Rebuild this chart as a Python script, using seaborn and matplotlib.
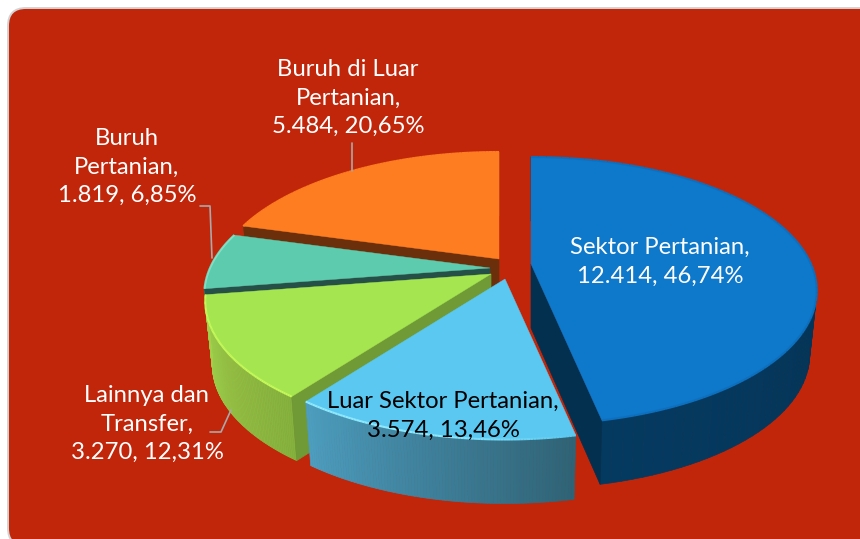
import numpy as np
import pandas as pd
import seaborn as sns
import matplotlib.pyplot as plt
from matplotlib.collections import PolyCollection, LineCollection
from matplotlib.patches import FancyBboxPatch, Polygon

# Data (clockwise from the top)
categories = ["Sektor Pertanian", "Luar Sektor Pertanian", "Lainnya dan\nTransfer",
              "Buruh\nPertanian", "Buruh di Luar\nPertanian"]
jumlah = [12414, 3574, 3270, 1819, 5484]
persen = ["46,74%", "13,46%", "12,31%", "6,85%", "20,65%"]

df = pd.DataFrame({"kategori": categories, "jumlah": jumlah, "persen": persen})

# Colours of each slice
top_colors = ["#0E78CB", "#5AC8F0", "#A5E650", "#5CCBAE", "#FE7D21"]
cut_colors = ["#03304F", "#3F8CAB", "#6F9A35", "#254F47", "#6B300B"]
wall_left = ["#053A60", "#4C9DBF", "#A2D04B", "#3F8F7A", "#B35A18"]
wall_right = ["#032D4C", "#2F6376", "#84B23E", "#3F8F7A", "#B35A18"]
rim_colors = ["#0D70BE", "#8FEAFF", "#C6F95A", "#86EBD0", "#FE7D21"]
text_colors = ["white", "black", "white", "white", "white"]

# Slice tips on the page and the 3D look of the pie
tips = [(531, 264), (505, 279), (491, 274), (490, 268), (499, 259)]
rx, ry, persp = 280, 128.4, 0.2
depth, shrink = 64, 0.975

# Which radial cut of each slice faces the viewer (0 start, -1 end, None hidden)
cut_side = [-1, None, 0, 0, 0]

# Label placement (centre x, centre y)
label_pos = [(660, 262), (443, 416), (147, 424), (127, 167), (348, 98)]

# Leader lines
leaders = [[(352, 143), (352, 171)],
           [(200, 206), (210, 206), (212, 258)],
           [(210, 432), (221, 432), (231, 410)]]

sns.set_theme(style="white")
plt.rcParams["font.family"] = ["Lato", "DejaVu Sans"]

fig = plt.figure(figsize=(8.6, 5.39), dpi=100, facecolor="white")
ax = fig.add_axes([0, 0, 1, 1])
ax.set_xlim(0, 860)
ax.set_ylim(539, 0)
ax.axis("off")

# Red rounded panel, it runs off the right and bottom of the picture
panel = FancyBboxPatch((26, 26), 880, 502, boxstyle="round,pad=18,rounding_size=18",
                       facecolor="#C1260B", edgecolor="#D3D3D3", linewidth=1.4, zorder=0)
ax.add_patch(panel)


def rim_xy(theta):
    s = 1 / (1 + persp * np.cos(theta))
    return rx * np.sin(theta) * s, -ry * np.cos(theta) * s


shares = df["jumlah"] / df["jumlah"].sum()
edges = np.concatenate([[0], np.cumsum(shares)]) * 2 * np.pi

# Back slices first so the front ones cover them
for i in [4, 3, 2, 1, 0]:
    z = 10 - i
    tx, ty = tips[i]
    theta = np.linspace(edges[i], edges[i + 1], 90)
    dx, dy = rim_xy(theta)
    top_x, top_y = tx + dx, ty + dy
    low_x, low_y = tx + dx * shrink, ty + dy + depth

    # outer wall made of thin strips for the gradient
    strips = []
    for j in range(len(theta) - 1):
        strips.append([(top_x[j], top_y[j]), (top_x[j + 1], top_y[j + 1]),
                       (low_x[j + 1], low_y[j + 1]), (low_x[j], low_y[j])])
    shade = sns.blend_palette([wall_right[i], wall_left[i]], len(strips))
    ax.add_collection(PolyCollection(strips, facecolors=shade, edgecolors=shade,
                                     linewidths=0.5, zorder=z))

    # flat cut face, on top of the wall
    k = cut_side[i]
    if k is not None:
        cut = [(tx, ty), (top_x[k], top_y[k]), (low_x[k], low_y[k]), (tx, ty + depth)]
        ax.add_patch(Polygon(cut, closed=True, facecolor=cut_colors[i], edgecolor=cut_colors[i],
                             linewidth=0.5, zorder=z + 0.1))

    # top face
    outline = np.column_stack([np.r_[tx, top_x], np.r_[ty, top_y]])
    ax.add_patch(Polygon(outline, closed=True, facecolor=top_colors[i], edgecolor=top_colors[i],
                         linewidth=0.3, zorder=z + 0.2))

    # light bevel along the round edge
    pts = np.column_stack([top_x, top_y])
    segs = np.stack([pts[:-1], pts[1:]], axis=1)
    if i == 1:
        fade = sns.blend_palette([top_colors[i], rim_colors[i], rim_colors[i]], len(segs))
    else:
        fade = [rim_colors[i]] * len(segs)
    ax.add_collection(LineCollection(segs, colors=fade, linewidths=1.5, zorder=z + 0.3))

for line in leaders:
    xs, ys = zip(*line)
    sns.lineplot(x=list(xs), y=list(ys), ax=ax, color="#A9A9A9", linewidth=1.2,
                 sort=False, estimator=None, zorder=20)

# Labels
for i, row in df.iterrows():
    ribuan = f"{row['jumlah']:,}".replace(",", ".")
    txt = f"{row['kategori']},\n{ribuan}, {row['persen']}"
    ax.text(label_pos[i][0], label_pos[i][1], txt, ha="center", va="center",
            color=text_colors[i], fontsize=17.2, linespacing=1.45, zorder=30)

ax.set_xlim(0, 860)
ax.set_ylim(539, 0)
fig.savefig("out.png", dpi=100)
